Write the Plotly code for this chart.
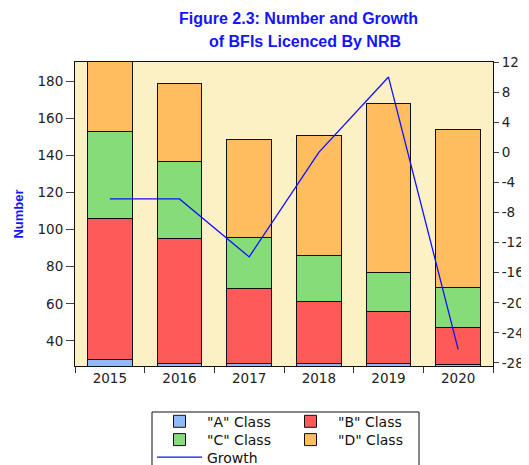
import plotly.graph_objects as go

years = ["2015", "2016", "2017", "2018", "2019", "2020"]
class_a = [30, 28, 28, 28, 28, 27]
class_b = [76, 67, 40, 33, 28, 20]
class_c = [47, 42, 28, 25, 21, 22]
class_d = [42, 42, 53, 65, 91, 85]
growth = [-6.2, -6.2, -13.9, 0.0, 10.0, -26.2]

left_ticks = [40, 60, 80, 100, 120, 140, 160, 180]
right_ticks = [-28, -24, -20, -16, -12, -8, -4, 0, 4, 8, 12]
right_tick_labels = ["-28", "-24", "-20", "-16", "-12", "-8", "-4", "0", "4", "8", "12"]

FONT = "DejaVu Sans, Liberation Sans, sans-serif"
TFONT = "Liberation Sans, Arial, sans-serif"
BLUE = "#1414ff"

# page has an 8px body margin: figure is placed at (8, 8) in the 529x465 window
W, H = 521, 457
L, T, R, B = 67, 54, 36, 99
PW, PH = W - L - R, H - T - B


def px(xpage):
    return (xpage - 8 - L) / PW


def py(ypage):
    return (H - B - (ypage - 8)) / PH


fig = go.Figure()
series = [
    ('"A" Class', class_a, "#8fbaf6", "legend"),
    ('"B" Class', class_b, "#fe5a5a", "legend"),
    ('"C" Class', class_c, "#86dc78", "legend2"),
    ('"D" Class', class_d, "#febd5f", "legend2"),
]
for name, vals, col, lg in series:
    fig.add_trace(go.Bar(
        x=years, y=vals, name=name, legend=lg,
        marker=dict(color=col, line=dict(color="#111111", width=1)),
        yaxis="y",
    ))

fig.add_trace(go.Scatter(
    x=years, y=growth, name="Growth", mode="lines", legend="legend3",
    line=dict(color="#1010ff", width=1.3), yaxis="y2",
))

leg_common = dict(
    orientation="h", xanchor="left", yanchor="middle",
    bgcolor="rgba(0,0,0,0)", borderwidth=0, itemwidth=45,
    entrywidth=71, entrywidthmode="pixels",
    font=dict(size=14, family=FONT, color="#111111"), traceorder="normal",
)

fig.update_layout(
    width=W, height=H,
    margin=dict(l=L, r=R, t=T, b=B, autoexpand=False),
    paper_bgcolor="white",
    plot_bgcolor="#fcf1c5",
    barmode="stack",
    bargap=0.355,
    font=dict(family=FONT, size=13.5, color="#222222"),
    xaxis=dict(
        type="category", tickson="boundaries", ticks="outside", ticklen=6,
        tickcolor="#333333", showline=True, linecolor="#111111", mirror=True,
        showgrid=False, tickfont=dict(size=13.5), automargin=False,
    ),
    yaxis=dict(
        range=[26.4, 190.6], tickvals=left_ticks, ticks="outside", ticklen=8,
        tickcolor="#444444", showline=True, linecolor="#111111", mirror=True,
        showgrid=False, zeroline=False, tickfont=dict(size=13.5), automargin=False,
        title=dict(text="<b>Number</b>", font=dict(color=BLUE, size=13, family=TFONT), standoff=10),
    ),
    yaxis2=dict(
        range=[-28.4, 12], tickvals=right_ticks, ticktext=right_tick_labels,
        overlaying="y", side="right",
        ticks="outside", ticklen=5, tickcolor="#444444", showline=True, linecolor="#111111",
        showgrid=False, zeroline=False, tickfont=dict(size=13.5), automargin=False,
    ),
    legend=dict(leg_common, x=px(152), y=py(421.7)),
    legend2=dict(leg_common, x=px(152), y=py(440)),
    legend3=dict(leg_common, x=px(152), y=py(457.5)),
    showlegend=True,
)

fig.add_shape(
    type="rect", xref="paper", yref="paper",
    x0=px(152), x1=px(419), y0=py(412), y1=py(480),
    line=dict(color="#111111", width=1), fillcolor="white", layer="above",
)

fig.add_annotation(
    text="<b>Figure 2.3: Number and Growth</b>", xref="paper", yref="paper",
    x=px(298), y=py(19), showarrow=False,
    font=dict(color=BLUE, size=16, family=TFONT), xanchor="center", yanchor="middle",
)
fig.add_annotation(
    text="<b>of BFIs Licenced By NRB</b>", xref="paper", yref="paper",
    x=px(305), y=py(42), showarrow=False,
    font=dict(color=BLUE, size=16, family=TFONT), xanchor="center", yanchor="middle",
)

fig.write_html("out.html")
